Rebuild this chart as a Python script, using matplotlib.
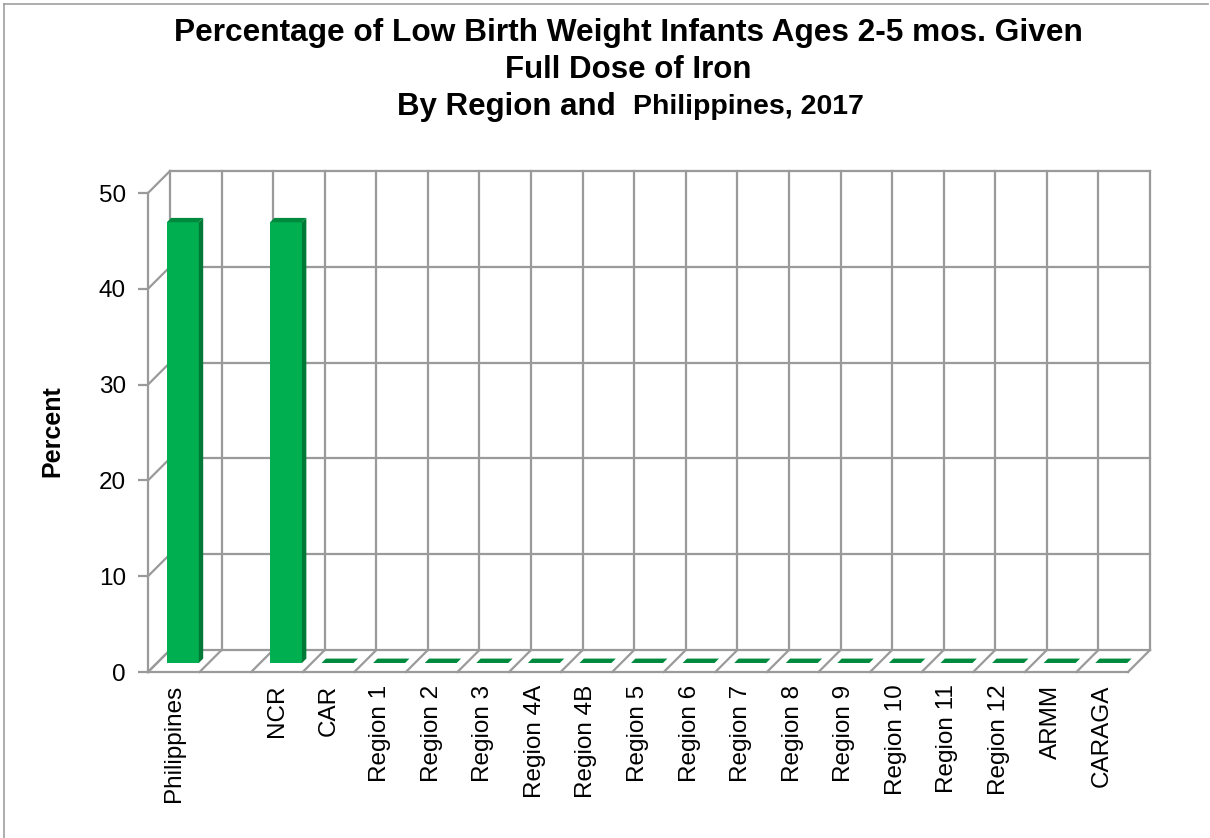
import numpy as np
import matplotlib
matplotlib.use('Agg')
import matplotlib.pyplot as plt
from matplotlib.patches import Polygon, Rectangle
from matplotlib.lines import Line2D

plt.rcParams['font.family'] = ['Liberation Sans', 'DejaVu Sans']

# данни
categories = ['Philippines', '', 'NCR', 'CAR', 'Region 1', 'Region 2', 'Region 3',
              'Region 4A', 'Region 4B', 'Region 5', 'Region 6', 'Region 7', 'Region 8',
              'Region 9', 'Region 10', 'Region 11', 'Region 12', 'ARMM', 'CARAGA']
values = [46, np.nan, 46, 0, 0, 0, 0, 0, 0, 0, 0, 0, 0, 0, 0, 0, 0, 0, 0]
y_ticks = [0, 10, 20, 30, 40, 50]

grid_c = '#9a9a9a'
front_c = '#00b050'
side_c = '#007a36'
top_c = '#008a3e'

fig = plt.figure(figsize=(12.1, 8.38), dpi=100)
ax = fig.add_axes([148 / 1210, 166 / 838, 980 / 1210, 479 / 838])
n = len(categories)
ax.set_xlim(0, n)
ax.set_ylim(0, 50)

# дълбочина на 3D ефекта в единици на данните
dx = 22 / 51.6
dy = 22 / 9.58

# задна стена, лява стена и под
for y in y_ticks:
    ax.add_line(Line2D([dx, n + dx], [y + dy, y + dy], color=grid_c, lw=1.6, clip_on=False, zorder=1))
    ax.add_line(Line2D([0, dx], [y, y + dy], color=grid_c, lw=1.6, clip_on=False, zorder=1))
for i in range(n + 1):
    ax.add_line(Line2D([i + dx, i + dx], [dy, 50 + dy], color=grid_c, lw=1.6, clip_on=False, zorder=1))
    ax.add_line(Line2D([i, i + dx], [0, dy], color=grid_c, lw=1.6, clip_on=False, zorder=1))

# колони
w = 0.62
f1, f2 = 0.41, 0.61
for i, v in enumerate(values):
    if np.isnan(v):
        continue
    x0 = i + 0.5 - w / 2 + f1 * dx
    x1 = x0 + w
    b0 = f1 * dy
    sx = (f2 - f1) * dx
    sy = (f2 - f1) * dy
    if v > 0:
        ax.add_patch(Rectangle((x0, b0), w, v, facecolor=front_c, edgecolor='none', zorder=3, clip_on=False))
        ax.add_patch(Polygon([(x1, b0), (x1 + sx, b0 + sy), (x1 + sx, v + b0 + sy), (x1, v + b0)],
                             facecolor=side_c, edgecolor='none', zorder=3, clip_on=False))
    ax.add_patch(Polygon([(x0, v + b0), (x1, v + b0), (x1 + sx, v + b0 + sy), (x0 + sx, v + b0 + sy)],
                         facecolor=top_c, edgecolor='none', zorder=3, clip_on=False))

for s in ['top', 'right']:
    ax.spines[s].set_visible(False)
for s in ['left', 'bottom']:
    ax.spines[s].set_color(grid_c)
    ax.spines[s].set_linewidth(1.6)
ax.set_yticks(y_ticks)
ax.set_xticks(np.arange(n) + 0.5)
ax.set_xticklabels(categories, rotation=90, fontsize=17.5)
ax.tick_params(axis='x', length=0, pad=9)
ax.tick_params(axis='y', length=7, width=1.6, color=grid_c, pad=9, labelsize=17.5)
ax.patch.set_visible(False)

fig.text(52 / 1210, 1 - 431 / 838, 'Percent', rotation=90, fontsize=18, fontweight='bold',
         ha='center', va='center')

fig.text(628 / 1210, 1 - 33 / 838, 'Percentage of Low Birth Weight Infants Ages 2-5 mos. Given',
         fontsize=22.8, fontweight='bold', ha='center', va='center')
fig.text(628 / 1210, 1 - 70 / 838, 'Full Dose of Iron', fontsize=22.5, fontweight='bold',
         ha='center', va='center')
fig.text(616 / 1210, 1 - 107 / 838, 'By Region and', fontsize=22.5, fontweight='bold',
         ha='right', va='center')
fig.text(633 / 1210, 1 - 107 / 838, 'Philippines, 2017', fontsize=20.5, fontweight='bold',
         ha='left', va='center')

# рамка
fig.add_artist(Line2D([4 / 1210, 1208 / 1210], [1 - 4 / 838, 1 - 4 / 838], color='#a0a0a0', lw=1.2))
fig.add_artist(Line2D([4 / 1210, 4 / 1210], [0, 1 - 4 / 838], color='#a0a0a0', lw=1.2))

fig.savefig('out.png', dpi=100)
